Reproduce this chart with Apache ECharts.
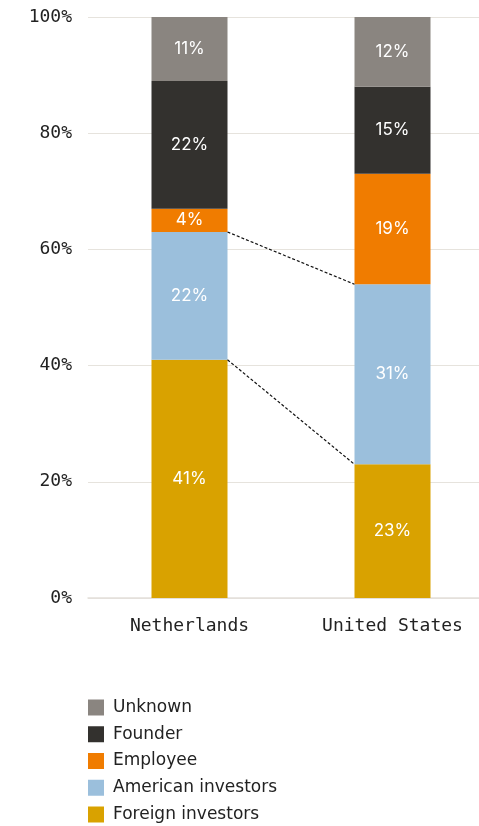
<!DOCTYPE html>
<html>
<head>
<meta charset="utf-8">
<script src="https://cdn.jsdelivr.net/npm/echarts@6/dist/echarts.min.js"></script>
<style>
  html, body { margin: 0; padding: 0; background: #fff; }
  #chart { width: 479px; height: 826px; }
</style>
</head>
<body>
<div id="chart"></div>
<script>
// Ownership shares by country (percent)
const countries = ['Netherlands', 'United States'];
const foreignInvestors = [41, 23];
const americanInvestors = [22, 31];
const employee = [4, 19];
const founder = [22, 15];
const unknown = [11, 12];
const yTicks = [0, 20, 40, 60, 80, 100];

const colors = {
  'Foreign investors': '#d9a200',
  'American investors': '#9bbfdc',
  'Employee': '#f07c00',
  'Founder': '#33312e',
  'Unknown': '#8a8580'
};

const BAR_W = 76;
const monoFont = '"DejaVu Sans Mono", monospace';
const sansFont = '"DejaVu Sans", sans-serif';
const labelFont = 'Inter, "Noto Sans", sans-serif';

function barSeries(name, values) {
  return {
    name: name,
    type: 'bar',
    stack: 'total',
    barWidth: BAR_W,
    data: values,
    itemStyle: { color: colors[name] },
    label: {
      show: true,
      position: 'inside',
      color: '#fff',
      fontFamily: labelFont,
      fontSize: 17,
      formatter: p => p.value + '%'
    },
    emphasis: { disabled: true }
  };
}

// Connector lines between matching stack boundaries of the two bars
const connectorData = [
  [foreignInvestors[0] + americanInvestors[0], foreignInvestors[1] + americanInvestors[1]],
  [foreignInvestors[0], foreignInvestors[1]]
];

const chart = echarts.init(document.getElementById('chart'));
chart.setOption({
  animation: false,
  grid: { left: 88, width: 406, top: 17, bottom: 228, containLabel: false, outerBoundsMode: 'none' },
  legend: {
    orient: 'vertical',
    left: 88,
    top: 699,
    height: 160,
    padding: 0,
    itemWidth: 16,
    itemHeight: 16,
    itemGap: 9.75,
    icon: 'rect',
    data: ['Unknown', 'Founder', 'Employee', 'American investors', 'Foreign investors'],
    textStyle: { fontFamily: sansFont, fontSize: 17, lineHeight: 16, color: '#222', padding: [0, 0, 0, 4] },
    selectedMode: false
  },
  xAxis: {
    type: 'category',
    data: countries,
    axisLine: { show: true, lineStyle: { color: '#e3e0da', width: 1.5 } },
    axisTick: { show: false },
    axisLabel: { fontFamily: monoFont, fontSize: 18, color: '#222', margin: 19 }
  },
  yAxis: {
    type: 'value',
    min: yTicks[0],
    max: yTicks[yTicks.length - 1],
    interval: 20,
    axisLine: { show: false },
    axisTick: { show: false },
    splitLine: { lineStyle: { color: '#e6e3dd', width: 1 } },
    axisLabel: { fontFamily: monoFont, fontSize: 18, color: '#222', margin: 16, formatter: v => v + '%' }
  },
  series: [
    barSeries('Foreign investors', foreignInvestors),
    barSeries('American investors', americanInvestors),
    barSeries('Employee', employee),
    barSeries('Founder', founder),
    barSeries('Unknown', unknown),
    {
      type: 'custom',
      silent: true,
      z: 5,
      data: connectorData,
      encode: { y: [0, 1] },
      renderItem: function (params, api) {
        const a = api.coord([0, api.value(0)]);
        const b = api.coord([1, api.value(1)]);
        return {
          type: 'line',
          shape: { x1: a[0] + BAR_W / 2, y1: a[1], x2: b[0] - BAR_W / 2, y2: b[1] },
          style: { stroke: '#111', lineWidth: 1.2, lineDash: [3, 2] }
        };
      }
    }
  ]
});
</script>
</body>
</html>
